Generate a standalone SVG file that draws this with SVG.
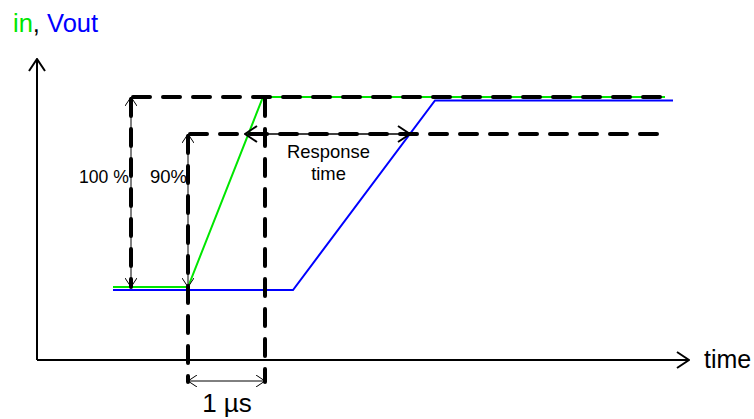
<svg xmlns="http://www.w3.org/2000/svg" width="754" height="419" viewBox="0 0 754 419">
<style>
.dash{stroke:#000;stroke-width:4;stroke-dasharray:17 13;stroke-linecap:round;fill:none}
.thin{stroke:#000;stroke-width:1;fill:none}
.axis{stroke:#000;stroke-width:2;fill:none}
text{font-family:"Liberation Sans",Arial,sans-serif;fill:#000}
</style>
<defs>
<marker id="ah" viewBox="-10 -6 11 12" markerWidth="11" markerHeight="12" refX="0" refY="0" orient="auto" markerUnits="userSpaceOnUse">
<path d="M-9,-6 L0,0 L-9,6" fill="none" stroke="#000" stroke-width="1"/>
</marker>
<marker id="ah2" viewBox="-14 -9 15 18" markerWidth="15" markerHeight="18" refX="0" refY="0" orient="auto" markerUnits="userSpaceOnUse">
<path d="M-12,-8 L0,0 L-12,8" fill="none" stroke="#000" stroke-width="2"/>
</marker>
</defs>
<g id="axes">
<line class="axis" x1="37" y1="360" x2="37" y2="59" marker-end="url(#ah2)"/>
<line class="axis" x1="37" y1="360" x2="689" y2="360" marker-end="url(#ah2)"/>
</g>
<g id="signals">
<polyline points="113,287 188,287 263,97 665,97" fill="none" stroke="#00e600" stroke-width="2"/>
<polyline points="113,290 293,290 435,100.5 673,100.5" fill="none" stroke="#0000ff" stroke-width="2"/>
</g>
<g id="connectors">
<line class="dash" x1="133" y1="97" x2="663" y2="97"/>
<line class="dash" x1="190" y1="134" x2="663" y2="134"/>
<line class="dash" x1="131" y1="99" x2="131" y2="287"/>
<line class="dash" x1="188" y1="136" x2="188" y2="382"/>
<line class="dash" x1="265" y1="99" x2="265" y2="382"/>
<line class="thin" x1="131" y1="192" x2="131" y2="97" marker-end="url(#ah)"/>
<line class="thin" x1="131" y1="192" x2="131" y2="287" marker-end="url(#ah)"/>
<line class="thin" x1="188" y1="210" x2="188" y2="134" marker-end="url(#ah)"/>
<line class="thin" x1="188" y1="210" x2="188" y2="287" marker-end="url(#ah)"/>
<line x1="327" y1="134" x2="245" y2="134" stroke="#000" stroke-width="1.5" marker-end="url(#ah2)"/>
<line x1="327" y1="134" x2="410" y2="134" stroke="#000" stroke-width="1.5" marker-end="url(#ah2)"/>
<line class="thin" x1="226" y1="381" x2="188" y2="381" marker-end="url(#ah)"/>
<line class="thin" x1="226" y1="381" x2="265" y2="381" marker-end="url(#ah)"/>
</g>
<g id="labels">
<text x="13" y="32" font-size="25.5"><tspan fill="#00e600">in</tspan>, <tspan fill="#0000ff">Vout</tspan></text>
<text x="79" y="183" font-size="17.6">100 %</text>
<text x="150" y="183" font-size="18.5">90%</text>
<text x="328.5" y="158" font-size="18.4" text-anchor="middle">Response</text>
<text x="328.5" y="180" font-size="18.4" text-anchor="middle">time</text>
<text x="227" y="412" font-size="26" text-anchor="middle">1 µs</text>
<text x="704" y="368" font-size="25">time</text>
</g>
</svg>
